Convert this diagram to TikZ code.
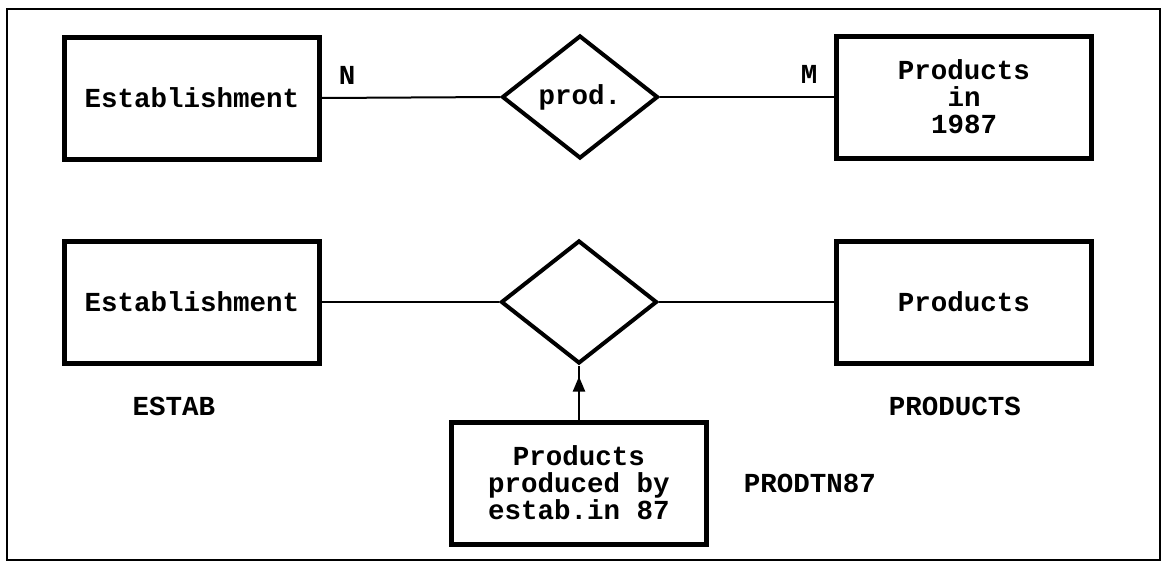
\documentclass[tikz,border=0pt]{standalone}
\usepackage{fontspec}
\setmonofont{Liberation Mono}
\usetikzlibrary{shapes.geometric,arrows.meta}
\tikzset{
  entity/.style={draw, line width=5pt, minimum width=255pt, minimum height=122pt, inner sep=0pt, align=center, font=\fontsize{27.5}{27}\ttfamily\bfseries},
  rel/.style={draw, diamond, line width=4pt, minimum width=156pt, minimum height=123pt, inner sep=0pt, font=\fontsize{27.5}{27}\ttfamily\bfseries},
  lbl/.style={inner sep=0pt, font=\fontsize{27.5}{27}\ttfamily\bfseries},
  conn/.style={line width=2pt},
}
\begin{document}
\begin{tikzpicture}[x=1pt,y=-1pt]
\useasboundingbox (0,0) rectangle (1171,570);
\draw[line width=1.3pt] (7,9) rectangle (1160,560);
% top row
\node[entity] (est1) at (192,98) {Establishment};
\node[rel] (rel1) at (580,97) {prod.};
\node[entity] (prod1) at (964,97) {Products\\in\\1987};
\draw[conn] (est1.east) -- (rel1.west);
\draw[conn] (rel1.east) -- (prod1.west);
\node[lbl] (n) at (347,75) {N};
\node[lbl] (m) at (809,74) {M};
% bottom row
\node[entity] (est2) at (192,302) {Establishment};
\node[rel] (rel2) at (579,302) {};
\node[entity] (prod2) at (579,483) {Products\\produced by\\estab.in 87};
\node[entity] (prod3) at (964,302) {Products};
\draw[conn] (est2.east) -- (rel2.west);
\draw[conn] (rel2.east) -- (prod3.west);
\node[lbl] (estab) at (174,406) {ESTAB};
\node[lbl] (products) at (955,406) {PRODUCTS};
\node[lbl] (prodtn) at (810,483) {PRODTN87};
\draw[conn] (prod2.north) -- (rel2.south);
\draw[conn, -{Triangle[length=15pt,width=12pt]}, shorten >=11pt] (prod2.north) -- (rel2.south);
\end{tikzpicture}
\end{document}
